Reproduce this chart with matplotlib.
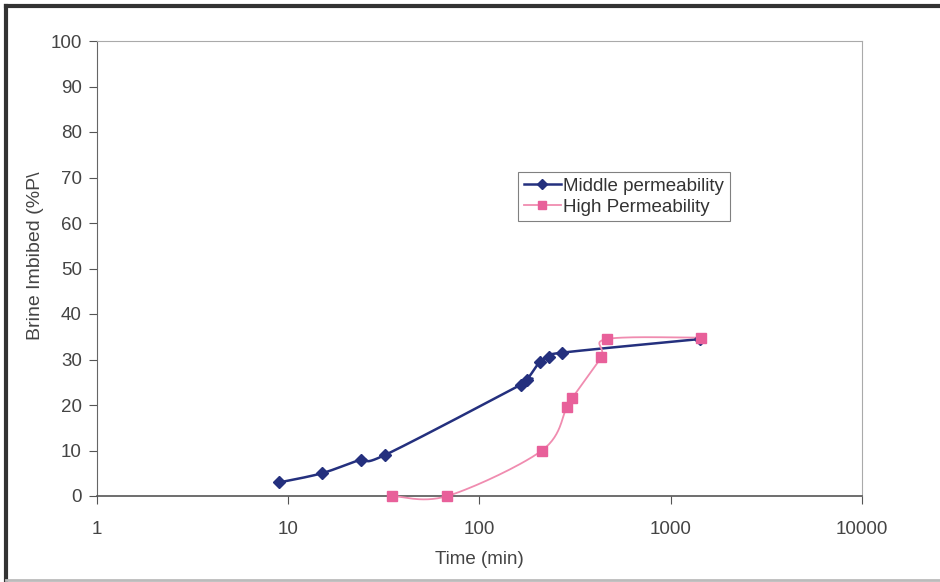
import matplotlib.pyplot as plt
from matplotlib.lines import Line2D
import numpy as np

plt.rcParams['font.family'] = ['Liberation Sans', 'DejaVu Sans']

# data
mid_time = [9, 15, 24, 32, 165, 177, 207, 231, 270, 1422]
mid_brine = [3, 5, 8, 9, 24.5, 25.5, 29.5, 30.5, 31.5, 34.5]

high_time = [35, 68, 212, 286, 305, 432, 464, 1439]
high_brine = [0, 0, 10, 19.5, 21.5, 30.5, 34.5, 34.8]

x_ticks = [1, 10, 100, 1000, 10000]
x_labels = ['1', '10', '100', '1000', '10000']
y_ticks = list(range(0, 101, 10))


def smooth(xs, ys, n=30):
    # catmull-rom through the points in log-x space, like excel's smoothed line
    lx = np.log10(np.array(xs, dtype=float))
    yy = np.array(ys, dtype=float)
    P = np.column_stack([lx, yy])
    P = np.vstack([P[0], P, P[-1]])
    out = []
    for i in range(1, len(P) - 2):
        p0, p1, p2, p3 = P[i - 1], P[i], P[i + 1], P[i + 2]
        t = np.linspace(0, 1, n)[:, None]
        seg = 0.5 * ((2 * p1) + (-p0 + p2) * t
                     + (2 * p0 - 5 * p1 + 4 * p2 - p3) * t ** 2
                     + (-p0 + 3 * p1 - 3 * p2 + p3) * t ** 3)
        out.append(seg)
    out = np.vstack(out)
    return 10 ** out[:, 0], out[:, 1]


fig = plt.figure(figsize=(9.4, 5.82), dpi=100)
ax = fig.add_axes([97 / 940, 1 - 496 / 582, (862 - 97) / 940, (496 - 41) / 582])

blue = '#24307e'
pink = '#e8609a'
pink_line = '#f08cb0'
fs = 13.5

sx, sy = smooth(mid_time, mid_brine)
ax.plot(sx, sy, color=blue, lw=1.8, zorder=3, clip_on=False)
ax.plot(mid_time, mid_brine, ls='none', marker='D', ms=6, color=blue, zorder=4, clip_on=False)

sx, sy = smooth(high_time, high_brine)
ax.plot(sx, sy, color=pink_line, lw=1.3, zorder=3, clip_on=False)
ax.plot(high_time, high_brine, ls='none', marker='s', ms=7, color=pink, zorder=4, clip_on=False)

h1 = Line2D([], [], color=blue, lw=1.8, marker='D', ms=5)
h2 = Line2D([], [], color=pink_line, lw=1.3, marker='s', mfc=pink, mec=pink, ms=6)
leg = ax.legend([h1, h2], ['Middle permeability', 'High Permeability'],
                loc='upper left', bbox_to_anchor=(518 / 940, 1 - 172 / 582),
                bbox_transform=fig.transFigure, fontsize=fs, frameon=True,
                fancybox=False, edgecolor='#808080', framealpha=1,
                handlelength=2.0, handletextpad=0.1, borderpad=0.3,
                labelspacing=0.2, borderaxespad=0)
leg.get_frame().set_linewidth(0.8)
for t in leg.get_texts():
    t.set_color('#333333')

ax.set_xscale('log')
ax.set_xlim(1, 10000)
ax.set_ylim(0, 100)
ax.set_xticks(x_ticks)
ax.set_xticklabels(x_labels)
ax.minorticks_off()
ax.set_yticks(y_ticks)
ax.tick_params(axis='both', colors='#555555', labelcolor='#444444',
               labelsize=fs, length=6, width=0.8)
ax.tick_params(axis='x', pad=12)
ax.tick_params(axis='y', pad=5)

ax.spines['left'].set_color('#666666')
ax.spines['bottom'].set_color('#555555')
ax.spines['bottom'].set_linewidth(1.2)
ax.spines['top'].set_color('#aaaaaa')
ax.spines['right'].set_color('#aaaaaa')

ax.set_xlabel('Time (min)', fontsize=fs, color='#444444', labelpad=9)
ax.set_ylabel('Brine Imbibed (%P\\', fontsize=14, color='#444444')
ax.yaxis.set_label_coords(-0.069, 0.527)

# outer chart frame
fig.add_artist(Line2D([6 / 940, 6 / 940], [0, 1 - 6 / 582], color='#333333', lw=3))
fig.add_artist(Line2D([6 / 940, 1], [1 - 6 / 582, 1 - 6 / 582], color='#333333', lw=3))
fig.add_artist(Line2D([6 / 940, 1], [2 / 582, 2 / 582], color='#bbbbbb', lw=2))

fig.savefig('out.png', dpi=100)
